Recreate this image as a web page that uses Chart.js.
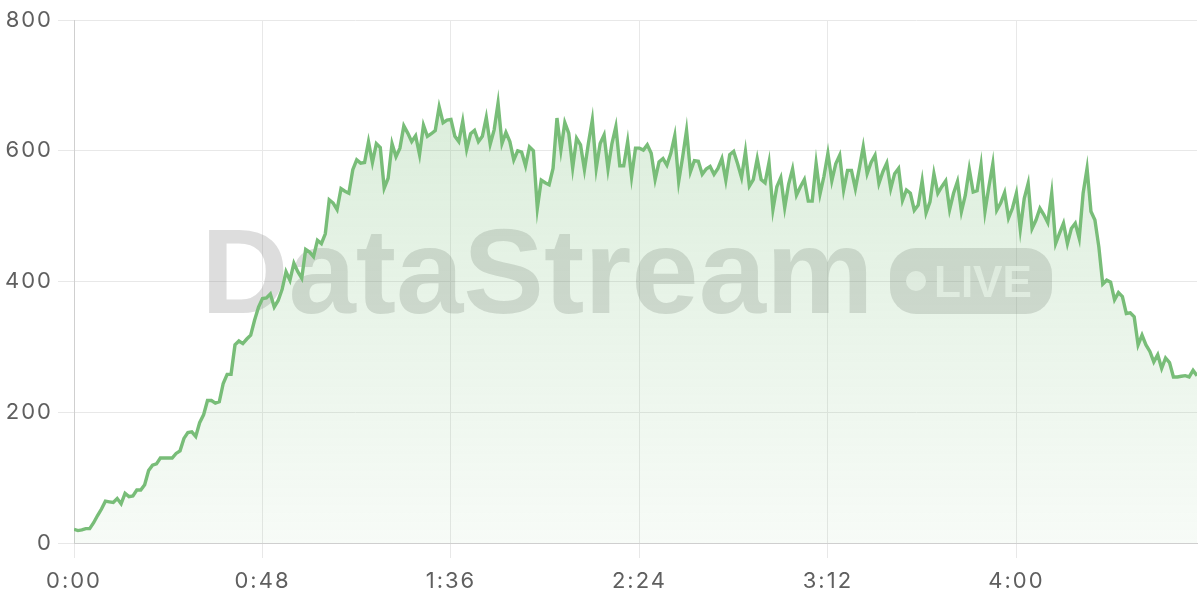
<!DOCTYPE html>
<html>
<head>
<meta charset="utf-8">
<script src="https://cdn.jsdelivr.net/npm/chart.js@4.4.1/dist/chart.umd.min.js"></script>
<style>
  html, body { margin: 0; padding: 0; background: #ffffff; }
  #wrap { width: 1200px; height: 600px; position: relative; }
</style>
</head>
<body>
<div id="wrap"><canvas id="c" width="1200" height="600"></canvas></div>
<script>
// Values per second (0:00 .. 4:46)
const values = [
  21, 19, 20, 22, 22, 31, 42, 52, 64, 63,
  62, 68, 60, 76, 71, 72, 81, 81, 89, 111,
  119, 121, 130, 130, 130, 130, 137, 141, 160, 169,
  170, 163, 184, 196, 218, 218, 214, 216, 244, 258,
  258, 303, 309, 305, 312, 318, 341, 361, 374, 375,
  381, 361, 371, 388, 415, 402, 428, 415, 405, 449,
  445, 438, 463, 458, 473, 525, 520, 510, 542, 538,
  535, 571, 586, 581, 582, 614, 582, 611, 605, 543,
  558, 611, 591, 604, 638, 627, 614, 623, 594, 639,
  622, 626, 631, 667, 643, 647, 648, 622, 614, 645,
  602, 626, 631, 614, 622, 651, 610, 632, 673, 611,
  628, 614, 586, 600, 598, 577, 606, 600, 512, 555,
  551, 548, 573, 650, 601, 643, 627, 574, 619, 609,
  571, 611, 647, 573, 611, 624, 572, 611, 637, 577,
  577, 614, 560, 604, 604, 601, 609, 596, 556, 583,
  588, 578, 596, 623, 553, 590, 631, 568, 585, 584,
  564, 572, 576, 564, 573, 588, 555, 594, 599, 580,
  559, 599, 546, 556, 588, 556, 551, 582, 510, 545,
  559, 513, 549, 572, 532, 545, 556, 523, 523, 581,
  534, 561, 596, 554, 580, 593, 540, 570, 570, 542,
  573, 606, 565, 582, 593, 550, 568, 581, 542, 565,
  573, 524, 540, 535, 509, 517, 554, 505, 522, 565,
  535, 545, 554, 510, 535, 553, 507, 532, 572, 537,
  539, 578, 507, 545, 580, 509, 520, 536, 497, 512,
  535, 480, 527, 550, 481, 494, 512, 502, 490, 535,
  458, 474, 489, 458, 481, 489, 466, 535, 573, 507,
  494, 453, 396, 402, 399, 372, 383, 377, 351, 352,
  346, 303, 318, 303, 293, 277, 288, 267, 283, 276,
  254, 254, 255, 256, 254, 264, 256
];
// x categories: elapsed seconds for each sample
const seconds = values.map((_, i) => i);
const xTicks = [0, 48, 96, 144, 192, 240];
const yTicks = [0, 200, 400, 600, 800];
const watermarkTitle = 'DataStream';
const watermarkBadge = 'LIVE';

function fmtTime(v) {
  const m = Math.floor(v / 60);
  const s = Math.round(v % 60);
  return m + ':' + String(s).padStart(2, '0');
}

const letterSpacing = {
  id: 'letterSpacing',
  beforeDraw(chart) { chart.ctx.letterSpacing = '2px'; },
  beforeDatasetsDraw(chart) { chart.ctx.letterSpacing = '0px'; }
};

const watermark = {
  id: 'watermark',
  beforeDatasetsDraw(chart) {
    const ctx = chart.ctx;
    ctx.save();
    ctx.letterSpacing = '0px';
    ctx.fillStyle = 'rgba(128,128,128,0.27)';
    ctx.font = 'bold 121px "Liberation Sans", Arial, sans-serif';
    ctx.textBaseline = 'alphabetic';
    ctx.textAlign = 'left';
    ctx.fillText(watermarkTitle, 201, 313);
    // badge
    const bx = 890, by = 248, bw = 162, bh = 66, r = 26;
    ctx.beginPath();
    ctx.moveTo(bx + r, by);
    ctx.lineTo(bx + bw - r, by);
    ctx.arcTo(bx + bw, by, bx + bw, by + r, r);
    ctx.lineTo(bx + bw, by + bh - r);
    ctx.arcTo(bx + bw, by + bh, bx + bw - r, by + bh, r);
    ctx.lineTo(bx + r, by + bh);
    ctx.arcTo(bx, by + bh, bx, by + bh - r, r);
    ctx.lineTo(bx, by + r);
    ctx.arcTo(bx, by, bx + r, by, r);
    ctx.closePath();
    ctx.fill();
    ctx.fillStyle = 'rgba(255,255,255,0.72)';
    ctx.beginPath();
    ctx.arc(916, 281, 10, 0, Math.PI * 2);
    ctx.fill();
    ctx.font = 'bold 44px "Liberation Sans", Arial, sans-serif';
    ctx.fillText(watermarkBadge, 934, 297);
    ctx.restore();
  }
};

const ctx = document.getElementById('c').getContext('2d');
new Chart(ctx, {
  type: 'line',
  data: {
    labels: seconds,
    datasets: [{
      data: values,
      borderColor: 'rgb(120,189,120)',
      borderWidth: 3.4,
      pointRadius: 0,
      tension: 0,
      fill: 'origin',
      backgroundColor(context) {
        const area = context.chart.chartArea;
        if (!area) return 'rgba(120,189,120,0.2)';
        const g = context.chart.ctx.createLinearGradient(0, area.top, 0, area.bottom);
        g.addColorStop(0, 'rgba(120,189,120,0.30)');
        g.addColorStop(1, 'rgba(120,189,120,0.06)');
        return g;
      }
    }]
  },
  options: {
    responsive: false,
    animation: false,
    devicePixelRatio: 1,
    layout: { padding: { top: 20, right: 3, left: 0, bottom: 0 } },
    plugins: { legend: { display: false }, tooltip: { enabled: false } },
    scales: {
      x: {
        type: 'linear',
        min: 0,
        max: seconds[seconds.length - 1],
        grid: { color: '#e8e8e8', tickLength: 15 },
        border: { color: '#cfcfcf' },
        afterBuildTicks(scale) { scale.ticks = xTicks.map(v => ({ value: v })); },
        ticks: {
          color: '#5f5f5f',
          padding: 10,
          maxRotation: 0,
          autoSkip: false,
          font: { family: 'Inter', size: 22 },
          callback: (v) => fmtTime(v)
        },
        afterFit(scale) { scale.height = 57; }
      },
      y: {
        min: yTicks[0],
        max: yTicks[yTicks.length - 1],
        grid: { color: '#e8e8e8', tickLength: 16 },
        border: { color: '#cfcfcf' },
        afterBuildTicks(scale) { scale.ticks = yTicks.map(v => ({ value: v })); },
        ticks: {
          color: '#5f5f5f',
          padding: 5,
          font: { family: 'Inter', size: 22 },
          callback: (v) => String(v)
        },
        afterFit(scale) { scale.width = 74; }
      }
    }
  },
  plugins: [letterSpacing, watermark]
});
</script>
</body>
</html>
